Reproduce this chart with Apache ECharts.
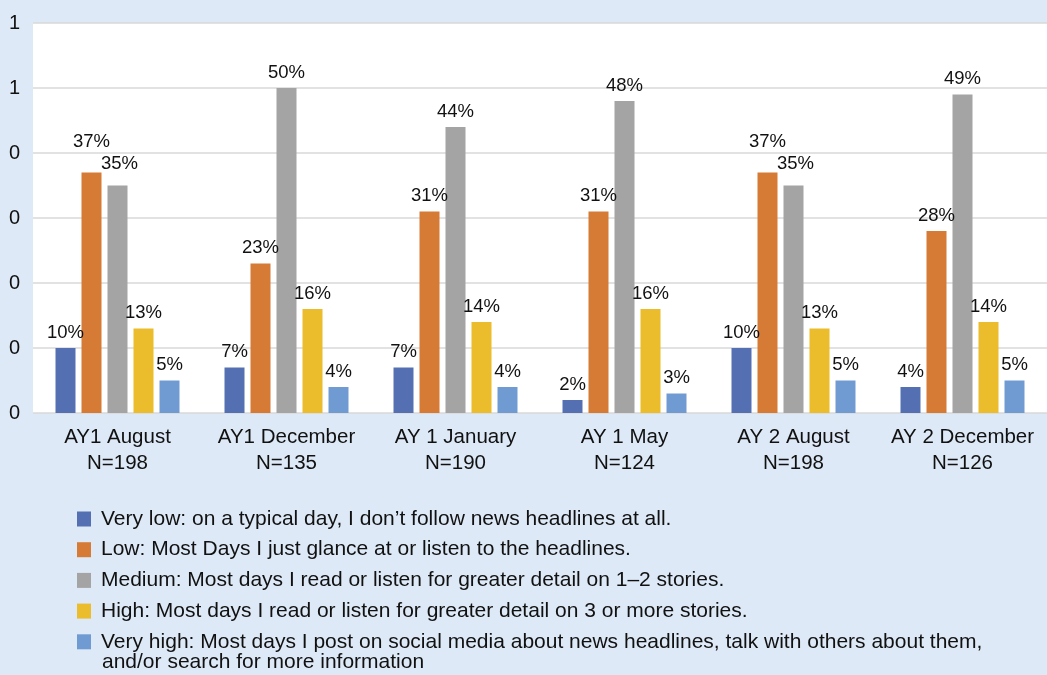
<!DOCTYPE html>
<html>
<head>
<meta charset="utf-8">
<style>
html,body{margin:0;padding:0;background:#dde9f6;}
#chart{width:1047px;height:675px;}
</style>
<script src="https://cdn.jsdelivr.net/npm/echarts@6/dist/echarts.min.js"></script>
</head>
<body>
<div id="chart"></div>
<script>
const categories = ['AY1 August\nN=198', 'AY1 December\nN=135', 'AY 1 January\nN=190', 'AY 1 May\nN=124', 'AY 2 August\nN=198', 'AY 2 December\nN=126'];
const seriesNames = [
  'Very low: on a typical day, I don\u2019t follow news headlines at all.',
  'Low: Most Days I just glance at or listen to the headlines.',
  'Medium: Most days I read or listen for greater detail on 1\u20132 stories.',
  'High: Most days I read or listen for greater detail on 3 or more stories.',
  'Very high: Most days I post on social media about news headlines, talk with others about them,'
];
const legendContinuation = 'and/or search for more information';
const veryLow  = [0.10, 0.07, 0.07, 0.02, 0.10, 0.04];
const low      = [0.37, 0.23, 0.31, 0.31, 0.37, 0.28];
const medium   = [0.35, 0.50, 0.44, 0.48, 0.35, 0.49];
const high     = [0.13, 0.16, 0.14, 0.16, 0.13, 0.14];
const veryHigh = [0.05, 0.04, 0.04, 0.03, 0.05, 0.05];
const colors = ['#5570b2', '#d67b36', '#a4a4a4', '#ebbc2b', '#6f9bd2'];
const yMin = 0, yMax = 0.6, yInterval = 0.1;

const FONT = '"Liberation Sans", Arial, Helvetica, sans-serif';
const chart = echarts.init(document.getElementById('chart'));
const allData = [veryLow, low, medium, high, veryHigh];

// label nudges (series index -> {category index: [dx, dy]}) to avoid overlaps like the original
const labelNudges = { 1: { 0: [0, -15], 4: [0, -15] }, 2: { 0: [2, -6], 4: [2, -6] } };

const series = allData.map((d, i) => ({
  name: seriesNames[i],
  type: 'bar',
  data: d.map((v, j) => {
    const n = labelNudges[i] && labelNudges[i][j];
    return n ? { value: v, label: { offset: n } } : v;
  }),
  barWidth: 20,
  barGap: '30%',
  itemStyle: { color: colors[i] },
  label: {
    show: true,
    position: 'top',
    distance: 6,
    color: '#111',
    fontSize: 18.5,
    fontFamily: FONT,
    formatter: p => Math.round(p.value * 100) + '%'
  }
}));

chart.setOption({
  backgroundColor: '#dde9f6',
  animation: false,
  textStyle: { fontFamily: FONT },
  grid: {
    left: 33, right: 0, top: 23, bottom: 262,
    show: true, backgroundColor: '#ffffff', borderWidth: 0,
    containLabel: false
  },
  xAxis: {
    type: 'category',
    data: categories,
    axisLine: { show: false },
    axisTick: { show: false },
    axisLabel: {
      interval: 0,
      color: '#111', fontSize: 20.5, fontFamily: FONT,
      lineHeight: 26, margin: 11
    }
  },
  yAxis: {
    type: 'value',
    min: yMin, max: yMax, interval: yInterval,
    axisLine: { show: false },
    axisTick: { show: false },
    splitLine: { lineStyle: { color: '#d9d9d9', width: 1.5 } },
    axisLabel: {
      color: '#111', fontSize: 20, fontFamily: FONT, margin: 13,
      formatter: v => String(Math.round(v))
    }
  },
  legend: {
    orient: 'vertical',
    left: 72, top: 503.5,
    itemWidth: 14, itemHeight: 15,
    itemGap: 9.7,
    icon: 'rect',
    selectedMode: false,
    textStyle: { color: '#111', fontSize: 21, fontFamily: FONT, padding: [0, 0, 0, 5] },
    data: seriesNames
  },
  graphic: [{
    type: 'text',
    left: 102, top: 652,
    style: { text: legendContinuation, fill: '#111', fontSize: 21, fontFamily: FONT }
  }],
  series: series
});
</script>
</body>
</html>
